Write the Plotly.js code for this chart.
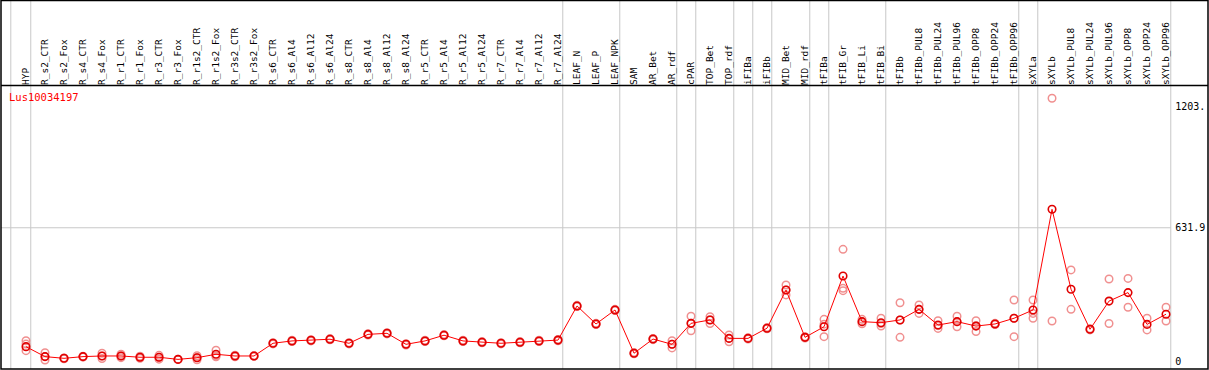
<!DOCTYPE html>
<html>
<head>
<meta charset="utf-8">
<script src="https://cdn.plot.ly/plotly-3.0.1.min.js"></script>
<style>html,body{margin:0;padding:0;background:#fff;}#chart{width:1209px;height:370px;}</style>
</head>
<body>
<div id="chart"></div>
<script>
const geneName = 'Lus10034197';

const categories = ['HYP','R_s2_CTR','R_s2_Fox','R_s4_CTR','R_s4_Fox','R_r1_CTR','R_r1_Fox','R_r3_CTR','R_r3_Fox',
  'R_r1s2_CTR','R_r1s2_Fox','R_r3s2_CTR','R_r3s2_Fox','R_s6_CTR','R_s6_Al4','R_s6_Al12','R_s6_Al24',
  'R_s8_CTR','R_s8_Al4','R_s8_Al12','R_s8_Al24','R_r5_CTR','R_r5_Al4','R_r5_Al12','R_r5_Al24',
  'R_r7_CTR','R_r7_Al4','R_r7_Al12','R_r7_Al24','LEAF_N','LEAF_P','LEAF_NPK','SAM','AR_Bet','AR_rdf',
  'cPAR','TOP_Bet','TOP_rdf','iFIBa','iFIBb','MID_Bet','MID_rdf','tFIBa','tFIB_Gr','tFIB_Li','tFIB_Bi',
  'tFIBb','tFIBb_PUL8','tFIBb_PUL24','tFIBb_PUL96','tFIBb_OPP8','tFIBb_OPP24','tFIBb_OPP96',
  'sXYLa','sXYLb','sXYLb_PUL8','sXYLb_PUL24','sXYLb_PUL96','sXYLb_OPP8','sXYLb_OPP24','sXYLb_OPP96'];

const meanValues = [71,24,16,24,27,27,21,21,11,19,35,27,27,87,98,101,106,87,129,134,82,98,125,98,92,87,92,98,102,
  263,178,244,40,107,82,181,197,110,110,158,338,115,165,404,189,184,197,247,173,189,168,178,205,
  244,719,342,153,286,326,176,224];

const replicate1 = [99,42,18,26,40,35,26,30,12,28,54,31,29,90,101,104,109,90,132,137,85,101,128,101,95,90,95,101,105,
  266,181,247,43,110,99,215,212,126,113,161,362,118,200,530,200,205,278,268,193,215,193,181,291,
  291,1243,433,156,390,393,205,257];
const replicate2 = [83,24,16,23,27,27,21,21,11,20,28,27,27,87,98,101,106,87,129,134,82,98,125,98,92,87,92,98,102,
  263,178,244,40,107,82,182,198,110,110,158,338,115,177,346,188,180,197,247,170,188,170,178,205,
  228,192,247,150,180,257,150,192];
const replicate3 = [52,8,14,22,15,19,16,12,10,9,23,23,25,84,95,98,103,84,126,131,79,95,122,95,89,84,89,95,99,
  260,175,241,37,104,65,146,180,94,107,155,315,112,118,335,179,168,115,228,157,165,142,175,118,
  205,null,null,null,null,null,null,null];

const yTickValues = [0, 631.9, 1203];
const yTickLabels = ['0', '631.9', '1203.'];
const groupEnds = ['HYP','R_r7_Al24','LEAF_NPK','AR_rdf','cPAR','TOP_rdf','iFIBa','iFIBb','MID_rdf','tFIBa','tFIB_Bi',
  'tFIBb_OPP96','sXYLa','sXYLb_OPP96'];

const repX = [], repY = [];
[replicate1, replicate2, replicate3].forEach(arr => {
  arr.forEach((v, i) => { if (v !== null) { repX.push(i); repY.push(v); } });
});
const catIdx = categories.map((c, i) => i);

const traces = [
  {type:'scatter', mode:'markers', x:repX, y:repY, hoverinfo:'skip',
   marker:{symbol:'circle-open', size:7.5, color:'#f09090', line:{width:1.5, color:'#f09090'}}},
  {type:'scatter', mode:'lines+markers', x:catIdx, y:meanValues, text:categories,
   line:{color:'#ff0000', width:1},
   marker:{symbol:'circle-open', size:7.5, color:'#e00000', line:{width:1.6, color:'#e00000'}}}
];

const topPaper = 369/283;
const shapes = [];
const gridX = [-0.8].concat(groupEnds.map(n => categories.indexOf(n) + 0.25));
gridX.forEach(x => shapes.push({type:'line', layer:'below', xref:'x', yref:'paper', x0:x, x1:x, y0:0, y1:topPaper,
  line:{color:'#c8c8c8', width:1}}));
shapes.push({type:'line', layer:'below', xref:'x', yref:'y', x0:-1.4, x1:60.25, y0:631.9, y1:631.9,
  line:{color:'#c8c8c8', width:1}});
shapes.push({type:'line', layer:'above', xref:'paper', yref:'paper', x0:0, x1:1, y0:1.002, y1:1.002,
  line:{color:'black', width:1.5}});
shapes.push({type:'rect', layer:'above', xref:'paper', yref:'paper', x0:0, x1:1, y0:0, y1:topPaper - 0.002,
  line:{color:'black', width:1.5}});

const layout = {
  width:1209, height:370,
  margin:{l:1, r:1, t:86, b:1, pad:0},
  paper_bgcolor:'white', plot_bgcolor:'white',
  showlegend:false,
  title:{text:geneName, font:{family:'DejaVu Sans Mono', size:10.5, color:'#ff0000'},
    xref:'container', yref:'container', x:9/1209, xanchor:'left', y:1-97/370, yanchor:'middle'},
  xaxis:{type:'linear', domain:[0, 0.972], range:[-1.316, 60.43], side:'top', anchor:'y', tickangle:-90, ticks:'',
    tickmode:'array', tickvals:catIdx, ticktext:categories,
    showgrid:false, zeroline:false, showline:false,
    tickfont:{family:'DejaVu Sans Mono', size:9.5, color:'black'}},
  yaxis:{range:[-34.4, 1300.6], anchor:'x', side:'right', ticks:'',
    tickmode:'array', tickvals:yTickValues, ticktext:yTickLabels,
    showgrid:false, zeroline:false, showline:false,
    tickfont:{family:'DejaVu Sans Mono', size:10, color:'black'}}
};

Plotly.newPlot('chart', traces, {...layout, shapes}, {staticPlot:true, displayModeBar:false});
</script>
</body>
</html>
